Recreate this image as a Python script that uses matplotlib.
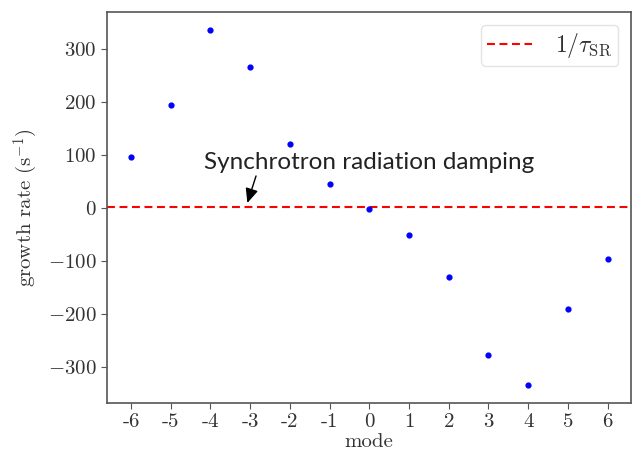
import numpy as np
import matplotlib
matplotlib.use("Agg")
import matplotlib.pyplot as plt

plt.rcParams['font.family'] = 'serif'
plt.rcParams['font.serif'] = ['cmr10']
plt.rcParams['mathtext.fontset'] = 'cm'
plt.rcParams['axes.formatter.use_mathtext'] = True
plt.rcParams['axes.unicode_minus'] = True

modes = [-6, -5, -4, -3, -2, -1, 0, 1, 2, 3, 4, 5, 6]
mode_labels = ['-6', '-5', '-4', '-3', '-2', '-1', '0', '1', '2', '3', '4', '5', '6']
growth = [95, 194, 336, 265, 121, 45, -2, -51, -130, -277, -335, -191, -96]
sr_rate = 2

grey = '#555555'
txt = '#333333'

fig, ax = plt.subplots(figsize=(6.34, 4.58), dpi=100)
fig.subplots_adjust(left=0.169, right=0.996, top=0.974, bottom=0.12)

ax.scatter(modes, growth, s=12, color='blue', zorder=3)
ax.axhline(sr_rate, color='red', linestyle='--', linewidth=1.5, dashes=(3.8, 2.2),
           label=r'$1/\tau_{\rm SR}$')

ax.set_xticks(modes)
ax.set_xticklabels(mode_labels)
ax.set_yticks([-300, -200, -100, 0, 100, 200, 300])
ax.tick_params(labelsize=15, colors=grey, labelcolor=txt, length=4)
for s in ax.spines.values():
    s.set_color(grey)
    s.set_linewidth(1.2)

ax.set_xlabel('mode', fontsize=15, color=txt, labelpad=1)
ax.set_ylabel(r'growth rate (s$^{-1}$)', fontsize=15, color=txt, labelpad=6)

ax.annotate('Synchrotron radiation damping', xy=(-3.07, 9), xytext=(-4.15, 85),
            fontsize=17.5, family='Lato', color='#222222', va='center',
            arrowprops=dict(arrowstyle='-|>,head_length=0.5,head_width=0.22',
                            color='black', lw=1,
                            shrinkA=0, shrinkB=0, relpos=(0.165, 0.3)))

leg = ax.legend(loc='upper right', fontsize=17, handlelength=1.9,
                handletextpad=1.0, borderpad=0.25, borderaxespad=0.55,
                labelcolor=txt)
leg.get_frame().set_edgecolor('#dddddd')

fig.savefig('out.png')
